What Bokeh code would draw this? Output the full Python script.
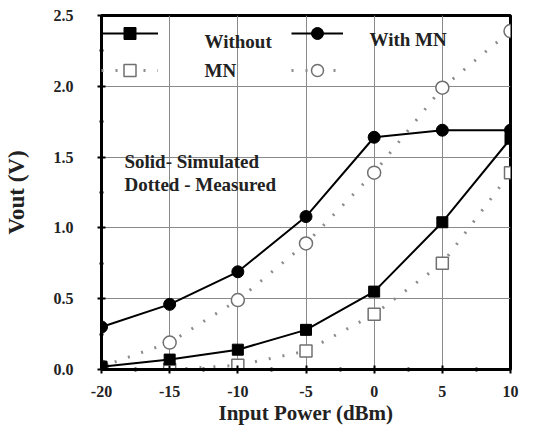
from bokeh.plotting import figure
from bokeh.models import (Legend, LegendItem, Label, FixedTicker, Range1d,
                          PrintfTickFormatter)
from bokeh.embed import file_html
from bokeh.resources import INLINE

power = [-20, -15, -10, -5, 0, 5, 10]
without_sim = [0.02, 0.07, 0.14, 0.28, 0.55, 1.04, 1.63]
without_meas = [0.0, 0.0, 0.03, 0.13, 0.39, 0.75, 1.39]
with_sim = [0.30, 0.46, 0.69, 1.08, 1.64, 1.69, 1.69]
with_meas = [0.02, 0.19, 0.49, 0.89, 1.39, 1.99, 2.39]

x_ticks = [-20, -15, -10, -5, 0, 5, 10]
y_ticks = [0.0, 0.5, 1.0, 1.5, 2.0, 2.5]

FONT = "Liberation Serif"

p = figure(width=529, height=427, output_backend="svg", toolbar_location=None,
           x_range=Range1d(-20, 10), y_range=Range1d(0, 2.5),
           min_border_left=100, min_border_right=19, min_border_top=15,
           min_border_bottom=57)
p.background_fill_color = "white"
p.outline_line_color = "black"
p.outline_line_width = 3

p.xaxis.ticker = FixedTicker(ticks=x_ticks, minor_ticks=[-17.5, -12.5, -7.5, -2.5, 2.5, 7.5])
p.yaxis.ticker = FixedTicker(ticks=y_ticks, minor_ticks=[0.25, 0.75, 1.25, 1.75, 2.25])
p.xaxis.formatter = PrintfTickFormatter(format="%d")
p.yaxis.formatter = PrintfTickFormatter(format="%.1f")

for ax in (p.xaxis, p.yaxis):
    ax.axis_line_width = 3
    ax.axis_line_color = "black"
    ax.major_tick_in = 4
    ax.major_tick_out = 4
    ax.major_tick_line_width = 2
    ax.minor_tick_in = 2
    ax.minor_tick_out = 2
    ax.minor_tick_line_width = 2
    ax.major_label_text_font = FONT
    ax.major_label_text_font_style = "bold"
    ax.major_label_text_font_size = "16px"
    ax.major_label_text_color = "#222222"
    ax.axis_label_text_font = FONT
    ax.axis_label_text_font_style = "bold"
    ax.axis_label_text_color = "#222222"

p.xaxis.axis_label = "Input Power (dBm)"
p.yaxis.axis_label = "Vout (V)"
p.xaxis.axis_label_text_font_size = "21px"
p.yaxis.axis_label_text_font_size = "23px"
p.xaxis.major_label_standoff = 12
p.yaxis.major_label_standoff = 24
p.xaxis.axis_label_standoff = 1
p.yaxis.axis_label_standoff = 22

p.xgrid.ticker = FixedTicker(ticks=[-15, -10, -5, 0, 5])
p.ygrid.ticker = FixedTicker(ticks=[0.5, 1.0, 1.5, 2.0])
p.grid.grid_line_color = "#8a8a8a"
p.grid.grid_line_width = 1

DOT = "#8c8c8c"

# measured (dotted)
l_wm = p.line(power, without_meas, line_color=DOT, line_width=3, line_dash="2 12")
s_wm = p.scatter(power, without_meas, marker="square", size=12, fill_color="white",
                 line_color="#707070", line_width=1.5)
l_mm = p.line(power, with_meas, line_color=DOT, line_width=3, line_dash="2 12")
s_mm = p.scatter(power, with_meas, marker="circle", size=13, fill_color="white",
                 line_color="#707070", line_width=1.5)

# simulated (solid)
l_ws = p.line(power, without_sim, line_color="black", line_width=2)
s_ws = p.scatter(power, without_sim, marker="square", size=11, fill_color="black",
                 line_color="black")
l_ms = p.line(power, with_sim, line_color="black", line_width=2)
s_ms = p.scatter(power, with_sim, marker="circle", size=12, fill_color="black",
                 line_color="black")

def make_legend(items, x, y, w):
    lg = Legend(items=items, location=(x, y), orientation="vertical",
                glyph_width=w, glyph_height=30, spacing=7, padding=0, margin=0,
                label_standoff=0, label_text_font_size="1px",
                background_fill_alpha=0, border_line_alpha=0)
    p.add_layout(lg, "center")

make_legend([LegendItem(label=" ", renderers=[l_ws, s_ws]),
             LegendItem(label=" ", renderers=[l_wm, s_wm])], 0, 284, 57)
make_legend([LegendItem(label=" ", renderers=[l_ms, s_ms]),
             LegendItem(label=" ", renderers=[l_mm, s_mm])], 190, 284, 52)

def label(txt, x, y, size="19px"):
    p.add_layout(Label(x=x, y=y, x_units="screen", y_units="screen", text=txt,
                       text_font=FONT, text_font_style="bold", text_font_size=size,
                       text_color="#222222", text_baseline="middle"))

label("Without", 103, 328)
label("MN", 103, 299)
label("With MN", 268, 330)
label("Solid- Simulated", 23, 208)
label("Dotted - Measured", 23, 185)

open("out.html", "w").write(file_html(p, INLINE))
